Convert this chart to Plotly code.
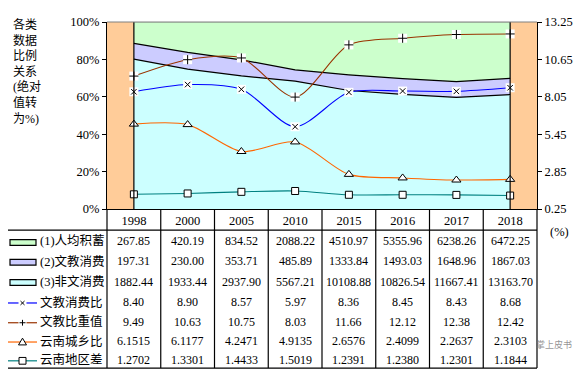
import plotly.graph_objects as go

# ---------------- data ----------------
years = ["1998", "2000", "2005", "2010", "2015", "2016", "2017", "2018"]
savings = [267.85, 420.19, 834.52, 2088.22, 4510.97, 5355.96, 6238.26, 6472.25]
edu_cons = [197.31, 230.00, 353.71, 485.89, 1333.84, 1493.03, 1648.96, 1867.03]
nonedu_cons = [1882.44, 1933.44, 2937.90, 5567.21, 10108.88, 10826.54, 11667.41, 13163.70]
edu_ratio = [8.40, 8.90, 8.57, 5.97, 8.36, 8.45, 8.43, 8.68]
edu_weight = [9.49, 10.63, 10.75, 8.03, 11.66, 12.12, 12.38, 12.42]
urban_rural = [6.1515, 6.1177, 4.2471, 4.9135, 2.6576, 2.4099, 2.2637, 2.3103]
regional = [1.2702, 1.3301, 1.4433, 1.5019, 1.2391, 1.2380, 1.2301, 1.1844]

row_labels = ["(1)人均积蓄", "(2)文教消费", "(3)非文消费", "文教消费比", "文教比重值", "云南城乡比", "云南地区差"]
row_values = [savings, edu_cons, nonedu_cons, edu_ratio, edu_weight, urban_rural, regional]
row_decimals = [2, 2, 2, 2, 2, 4, 4]

y2_ticks = [0.25, 2.85, 5.45, 8.05, 10.65, 13.25]

# ---------------- styles ----------------
W, H = 582, 380
BODY = 8  # default page body margin
PL, PR, PT, PB = 107, 537, 15, 209  # plot area in reference pixels
SERIF = "Liberation Serif, Times New Roman, serif"
CJK = "Liberation Serif, Noto Sans CJK SC, serif"

C_GREEN, C_BLUE, C_CYAN, C_PEACH = "#CCFFCC", "#CCCCFF", "#CCFFFF", "#FFCC99"
C_L1, C_L2, C_L3, C_L4 = "#0000FF", "#993300", "#FF6600", "#008080"


def px(x):
    return (x - PL) / (PR - PL)


def py(y):
    return (PB - y) / (PB - PT)


n = len(years)
xs = list(range(n))

fig = go.Figure()

# 100% stacked areas
fig.add_trace(go.Scatter(x=xs, y=nonedu_cons, stackgroup="a", groupnorm="percent",
                         mode="lines", line=dict(color="black", width=1.2),
                         fillcolor=C_CYAN, hoverinfo="skip"))
fig.add_trace(go.Scatter(x=xs, y=edu_cons, stackgroup="a",
                         mode="lines", line=dict(color="black", width=1.2),
                         fillcolor=C_BLUE, hoverinfo="skip"))
fig.add_trace(go.Scatter(x=xs, y=savings, stackgroup="a",
                         mode="lines", line=dict(color="#808080", width=0.5),
                         fillcolor=C_GREEN, hoverinfo="skip"))


# lines on secondary axis
def add_line(vals, color, symbol, boxed, msize, fill):
    fig.add_trace(go.Scatter(x=xs, y=vals, yaxis="y2", mode="lines",
                             line=dict(color=color, width=1.1, shape="spline", smoothing=0.8),
                             hoverinfo="skip"))
    if boxed:
        fig.add_trace(go.Scatter(x=xs, y=vals, yaxis="y2", mode="markers",
                                 marker=dict(symbol="square", size=9, color="white",
                                             line=dict(width=0)),
                                 hoverinfo="skip", cliponaxis=False))
    fig.add_trace(go.Scatter(x=xs, y=vals, yaxis="y2", mode="markers",
                             marker=dict(symbol=symbol, size=msize, color=fill,
                                         line=dict(color="black", width=1)),
                             hoverinfo="skip", cliponaxis=False))


add_line(edu_ratio, C_L1, "x-thin", True, 5.5, "black")
add_line(edu_weight, C_L2, "cross-thin", True, 6.5, "black")
add_line(urban_rural, C_L3, "triangle-up", False, 8, "white")
add_line(regional, C_L4, "square", False, 7, "white")

shapes = []
# area vertical edges
for xe in (0, n - 1):
    shapes.append(dict(type="line", xref="x", yref="y", x0=xe, x1=xe, y0=0, y1=100,
                       line=dict(color="black", width=1.2)))
# top border of plot area
shapes.append(dict(type="line", xref="paper", yref="paper", x0=0, x1=1, y0=1, y1=1,
                   line=dict(color="#808080", width=1)))

# ---------------- data table ----------------
T_TOP, T_BOT, T_LEFT = 231, 374, 6
colw = (PR - PL) / n
row_y = [242.7, 263.3, 284.3, 305.5, 326, 346, 365.5]


def hline(x0, x1, y, color="black", w=1.2):
    shapes.append(dict(type="line", xref="paper", yref="paper", x0=px(x0), x1=px(x1),
                       y0=py(y), y1=py(y), line=dict(color=color, width=w)))


def vline(x, y0, y1, color="black", w=1.2):
    shapes.append(dict(type="line", xref="paper", yref="paper", x0=px(x), x1=px(x),
                       y0=py(y0), y1=py(y1), line=dict(color=color, width=w)))


hline(T_LEFT, PR, T_TOP)
hline(T_LEFT, PR, T_BOT)
vline(T_LEFT, T_TOP, T_BOT)
for i in range(n + 1):
    vline(PL + i * colw, PB, T_BOT)

annotations = []
for r, (lab, vals, dec) in enumerate(zip(row_labels, row_values, row_decimals)):
    yy = row_y[r]
    annotations.append(dict(xref="paper", yref="paper", x=px(38), y=py(yy), xanchor="left",
                            yanchor="middle", text=lab, showarrow=False,
                            font=dict(family=CJK, size=12.5, color="black")))
    for i, v in enumerate(vals):
        annotations.append(dict(xref="paper", yref="paper", x=px(PL + (i + 0.5) * colw),
                                y=py(yy), xanchor="center", yanchor="middle",
                                text=f"{v:.{dec}f}", showarrow=False,
                                font=dict(family=SERIF, size=12, color="black")))

# legend keys in table
area_cols = [C_GREEN, C_BLUE, C_CYAN]
for r in range(3):
    yy = row_y[r] + 1
    shapes.append(dict(type="rect", xref="paper", yref="paper", x0=px(10), x1=px(36),
                       y0=py(yy - 3), y1=py(yy + 3), fillcolor=area_cols[r],
                       line=dict(color="black", width=1.2)))

line_cols = [C_L1, C_L2, C_L3, C_L4]
for k in range(4):
    yy = row_y[3 + k] + 1
    hline(8, 37, yy, color=line_cols[k], w=1.2)
    cx = 22.5
    if k == 0:
        shapes.append(dict(type="rect", xref="paper", yref="paper", x0=px(cx - 4), x1=px(cx + 4),
                           y0=py(yy - 4), y1=py(yy + 4), fillcolor="white", line=dict(width=0)))
        for a, b in ((-2, 2), (2, -2)):
            shapes.append(dict(type="line", xref="paper", yref="paper", x0=px(cx - 2), x1=px(cx + 2),
                               y0=py(yy + a), y1=py(yy + b), line=dict(color="black", width=1)))
    elif k == 1:
        shapes.append(dict(type="rect", xref="paper", yref="paper", x0=px(cx - 4), x1=px(cx + 4),
                           y0=py(yy - 4), y1=py(yy + 4), fillcolor="white", line=dict(width=0)))
        hline(cx - 3, cx + 3, yy, w=1)
        vline(cx, yy - 3, yy + 3, w=1)
    elif k == 2:
        path = "M {} {} L {} {} L {} {} Z".format(px(cx - 4), py(yy + 3), px(cx + 4), py(yy + 3),
                                                  px(cx), py(yy - 4))
        shapes.append(dict(type="path", xref="paper", yref="paper", path=path,
                           fillcolor="white", line=dict(color="black", width=1)))
    else:
        shapes.append(dict(type="rect", xref="paper", yref="paper", x0=px(cx - 3.5), x1=px(cx + 3.5),
                           y0=py(yy - 3.5), y1=py(yy + 3.5), fillcolor="white",
                           line=dict(color="black", width=1)))

# left axis title
annotations.append(dict(xref="paper", yref="paper", x=px(11), y=py(8), xanchor="left", yanchor="top",
                        align="left", showarrow=False,
                        text="各类<br>数据<br>比例<br>关系<br>(绝对<br>值转<br>为%)",
                        font=dict(family=CJK, size=12, color="black")))
# (%) label
annotations.append(dict(xref="paper", yref="paper", x=px(559), y=py(233), xanchor="center",
                        yanchor="middle", showarrow=False, text="(%)",
                        font=dict(family=SERIF, size=12.5, color="black")))
# watermark
annotations.append(dict(xref="paper", yref="paper", x=px(554), y=py(350), xanchor="center",
                        yanchor="middle", showarrow=False, text="掌上皮书",
                        font=dict(family="Noto Sans CJK SC", size=9, color="rgba(120,120,120,0.8)")))

fig.update_layout(
    width=W - BODY, height=H - BODY,
    margin=dict(l=PL - BODY, r=W - PR, t=PT - BODY, b=H - PB, pad=0),
    paper_bgcolor="white", plot_bgcolor=C_PEACH,
    showlegend=False,
    font=dict(family=SERIF),
    xaxis=dict(range=[-0.5, n - 0.5], tickvals=xs, ticktext=years, showgrid=False,
               zeroline=False, showline=True, linecolor="black", linewidth=1.2, ticks="",
               tickfont=dict(family=SERIF, size=12.5, color="black"), fixedrange=True),
    yaxis=dict(range=[0, 100], dtick=20, ticksuffix="%", showgrid=False, zeroline=False,
               showline=True, linecolor="black", linewidth=1.2, ticks="outside", ticklen=4,
               tickcolor="black", tickfont=dict(family=SERIF, size=12.5, color="black")),
    yaxis2=dict(overlaying="y", side="right", range=[y2_ticks[0], y2_ticks[-1]],
                tickvals=y2_ticks, ticktext=[f"{t:.2f}" for t in y2_ticks], showgrid=False,
                zeroline=False, showline=True, linecolor="black", linewidth=1.2,
                ticks="outside", ticklen=4, tickcolor="black",
                tickfont=dict(family=SERIF, size=12.5, color="black")),
    shapes=shapes,
    annotations=annotations,
)

fig.write_html("out.html")
